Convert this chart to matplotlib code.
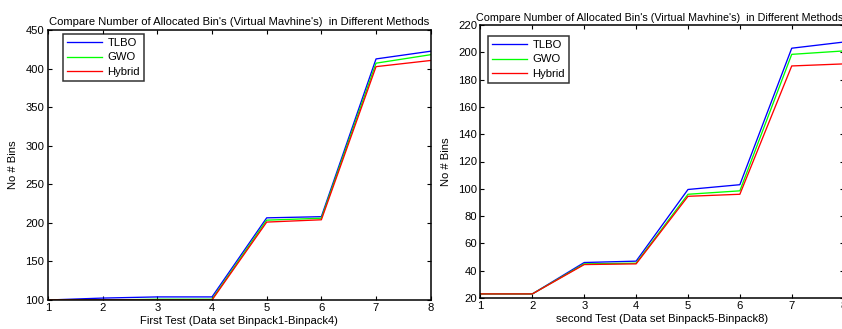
import matplotlib
matplotlib.use("Agg")
import matplotlib.pyplot as plt

plt.rcParams['font.family'] = ['Liberation Sans', 'DejaVu Sans']

x = [1, 2, 3, 4, 5, 6, 7, 8]
series_names = ["TLBO", "GWO", "Hybrid"]
colors = ["#0000ff", "#00ff00", "#ff0000"]

test1_tlbo = [100, 102.5, 104, 104, 206.5, 208, 412.5, 422.5]
test1_gwo = [100, 100, 101, 101, 203.5, 206, 407, 418]
test1_hybrid = [100, 100, 100, 100, 201, 204, 402.5, 410.5]

test2_tlbo = [23, 23, 46, 47, 99.5, 103, 203, 207.5]
test2_gwo = [23, 23, 45, 45.5, 96, 98.5, 198.5, 201]
test2_hybrid = [23, 23, 44.5, 45, 94.5, 96, 190, 191.5]

title = "Compare Number of Allocated Bin's (Virtual Mavhine's)  in Different Methods"
xlabel1 = "First Test (Data set Binpack1-Binpack4)"
xlabel2 = "second Test (Data set Binpack5-Binpack8)"
ylabel = "No # Bins"
yticks1 = [100, 150, 200, 250, 300, 350, 400, 450]
yticks2 = [20, 40, 60, 80, 100, 120, 140, 160, 180, 200, 220]

W, H = 842, 329
fig = plt.figure(figsize=(W / 100, H / 100), dpi=100)

def px_axes(l, r, t, b):
    return fig.add_axes([l / W, 1 - b / H, (r - l) / W, (b - t) / H])

ax1 = px_axes(48, 430.7, 30, 300)
ax2 = px_axes(480.5, 843.6, 25, 298)

fs = 8.1
for ax, data, yt, xl, legpos, tfs, tx, tpad in [
    (ax1, [test1_tlbo, test1_gwo, test1_hybrid], yticks1, xlabel1, (63, 34), 8.1, 0.5, 3.5),
    (ax2, [test2_tlbo, test2_gwo, test2_hybrid], yticks2, xlabel2, (488, 36), 7.75, 0.494, 3.0),
]:
    for name, vals, c in zip(series_names, data, colors):
        ax.plot(x, vals, color=c, lw=0.95, label=name)
    ax.set_xlim(1, 8)
    ax.set_ylim(yt[0], yt[-1])
    ax.set_xticks(x)
    ax.set_yticks(yt)
    ax.tick_params(direction='in', top=True, right=True, length=3, width=0.8,
                   labelsize=fs, colors='black', pad=2.5)
    for s in ax.spines.values():
        s.set_linewidth(1.1)
    ax.set_title(title, fontsize=tfs, pad=tpad, x=tx)
    ax.set_xlabel(xl, fontsize=fs, labelpad=2)
    ax.set_ylabel(ylabel, fontsize=fs, labelpad=5)
    lx, ly = legpos
    leg = ax.legend(loc='upper left', bbox_to_anchor=(lx / W, 1 - ly / H),
                    bbox_transform=fig.transFigure, fontsize=fs, frameon=True,
                    fancybox=False, edgecolor='black', handlelength=3.1,
                    handletextpad=0.5, labelspacing=0.4, borderpad=0.35,
                    borderaxespad=0)
    leg.get_frame().set_linewidth(1.1)

fig.savefig("out.png", dpi=100)
